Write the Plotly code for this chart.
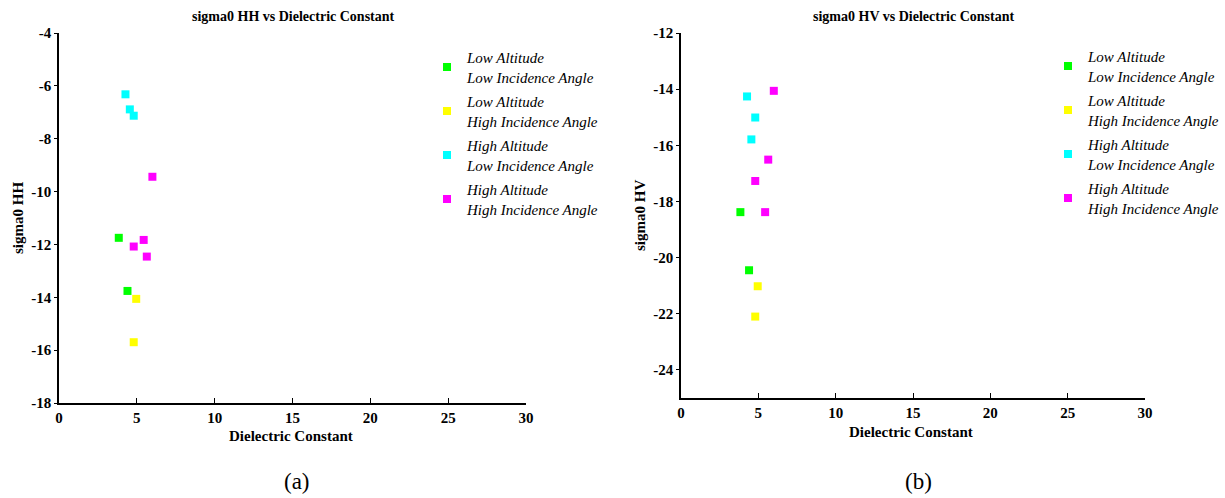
import plotly.graph_objects as go

# ---- data ----
series_names = ["Low Altitude<br>Low Incidence Angle",
                "Low Altitude<br>High Incidence Angle",
                "High Altitude<br>Low Incidence Angle",
                "High Altitude<br>High Incidence Angle"]
series_colors = ["#00ff00", "#ffff00", "#00ffff", "#ff00ff"]

# sigma0 HH vs dielectric constant
hh_x_lalo = [3.84, 4.40]
hh_y_lalo = [-11.75, -13.76]
hh_x_lahi = [4.96, 4.80]
hh_y_lahi = [-14.06, -15.70]
hh_x_halo = [4.27, 4.55, 4.80]
hh_y_halo = [-6.32, -6.89, -7.13]
hh_x_hahi = [6.00, 5.44, 4.80, 5.64]
hh_y_hahi = [-9.44, -11.83, -12.08, -12.46]

# sigma0 HV vs dielectric constant
hv_x_lalo = [3.84, 4.40]
hv_y_lalo = [-18.38, -20.45]
hv_x_lahi = [4.96, 4.80]
hv_y_lahi = [-21.02, -22.10]
hv_x_halo = [4.27, 4.80, 4.55]
hv_y_halo = [-14.26, -15.01, -15.79]
hv_x_hahi = [6.00, 5.64, 4.80, 5.44]
hv_y_hahi = [-14.06, -16.51, -17.27, -18.38]

x_ticks = [0, 5, 10, 15, 20, 25, 30]
hh_y_ticks = [-4, -6, -8, -10, -12, -14, -16, -18]
hv_y_ticks = [-12, -14, -16, -18, -20, -22, -24]

SERIF = "Liberation Serif"

def bold_labels(vals):
    return ["<b>%g</b>" % v for v in vals]

fig = go.Figure()

hh_sets = [(hh_x_lalo, hh_y_lalo), (hh_x_lahi, hh_y_lahi), (hh_x_halo, hh_y_halo), (hh_x_hahi, hh_y_hahi)]
hv_sets = [(hv_x_lalo, hv_y_lalo), (hv_x_lahi, hv_y_lahi), (hv_x_halo, hv_y_halo), (hv_x_hahi, hv_y_hahi)]

for i, (xs, ys) in enumerate(hh_sets):
    fig.add_trace(go.Scatter(x=xs, y=ys, mode="markers", name=series_names[i],
                             marker=dict(symbol="square", size=8, color=series_colors[i], line=dict(width=0)),
                             xaxis="x", yaxis="y", legend="legend", legendgroup="a%d" % i))
for i, (xs, ys) in enumerate(hv_sets):
    fig.add_trace(go.Scatter(x=xs, y=ys, mode="markers", name=series_names[i],
                             marker=dict(symbol="square", size=8, color=series_colors[i], line=dict(width=0)),
                             xaxis="x2", yaxis="y2", legend="legend2", legendgroup="b%d" % i))

W, H = 1225, 498

def fx(p):
    return p / W

def fy(p):
    return 1 - p / H

axis_common = dict(showline=True, linecolor="black", linewidth=1.5, showgrid=False, zeroline=False,
                   ticks="outside", ticklen=3, tickcolor="black", tickwidth=1, automargin=False)
xcommon = dict(axis_common)
xcommon.update(ticks="inside", ticklen=5, tickvals=x_ticks, ticktext=bold_labels(x_ticks), range=[0, 30])

legfont = dict(family=SERIF, size=15, color="black", style="italic")

fig.update_layout(
    width=W, height=H,
    font=dict(family=SERIF, color="black"),
    margin=dict(l=0, r=0, t=0, b=0, autoexpand=False),
    paper_bgcolor="white", plot_bgcolor="white",
    xaxis=dict(domain=[fx(59), fx(526)], anchor="y", **xcommon),
    yaxis=dict(domain=[fy(403), fy(33)], anchor="x", range=[-18, -4], tickvals=hh_y_ticks,
               ticktext=bold_labels(hh_y_ticks), **axis_common),
    xaxis2=dict(domain=[fx(681), fx(1145)], anchor="y2", **xcommon),
    yaxis2=dict(domain=[fy(398), fy(33)], anchor="x2", range=[-25, -12], tickvals=hv_y_ticks,
                ticktext=bold_labels(hv_y_ticks), **axis_common),
    legend=dict(x=fx(427), y=fy(41), xanchor="left", yanchor="top", bgcolor="rgba(0,0,0,0)",
                font=legfont, tracegroupgap=2),
    legend2=dict(x=fx(1048), y=fy(40), xanchor="left", yanchor="top", bgcolor="rgba(0,0,0,0)",
                 font=legfont, tracegroupgap=2),
)
fig.update_xaxes(tickfont=dict(family="Liberation Serif, serif", size=15, color="black"))
fig.update_yaxes(tickfont=dict(family="Liberation Serif, serif", size=15, color="black"))

bold = dict(family=SERIF, size=15, color="black", weight=700)
tbold = dict(family=SERIF, size=14, color="black", weight=700)
ann = [
    dict(text="sigma0 HH vs Dielectric Constant", x=fx(293), y=fy(17), font=tbold),
    dict(text="sigma0 HV vs Dielectric Constant", x=fx(913), y=fy(17), font=tbold),
    dict(text="Dielectric Constant", x=fx(291), y=fy(436), font=bold),
    dict(text="Dielectric Constant", x=fx(911), y=fy(432), font=bold),
    dict(text="sigma0 HH", x=fx(18), y=fy(218), font=bold, textangle=-90),
    dict(text="sigma0 HV", x=fx(640), y=fy(216), font=bold, textangle=-90),
    dict(text="(a)", x=fx(297), y=fy(481), font=dict(family=SERIF, size=23, color="black")),
    dict(text="(b)", x=fx(918), y=fy(481), font=dict(family=SERIF, size=23, color="black")),
]
for a in ann:
    fig.add_annotation(xref="paper", yref="paper", showarrow=False, xanchor="center", yanchor="middle", **a)

fig.write_html("out.html")
